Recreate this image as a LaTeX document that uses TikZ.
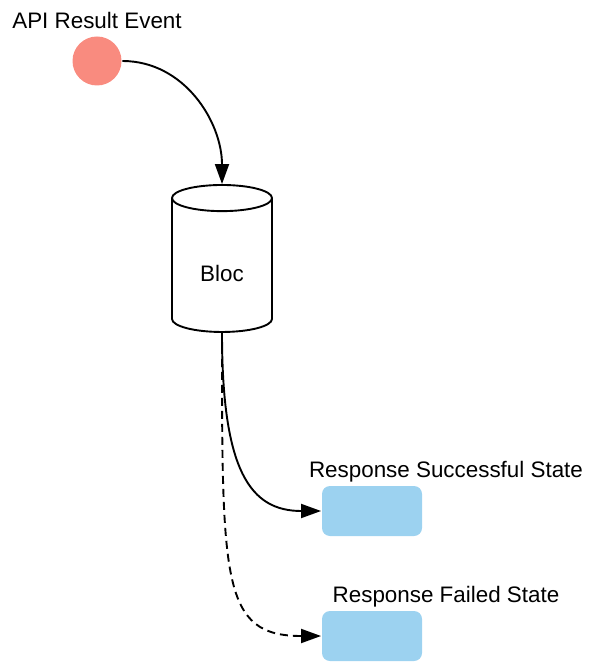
\documentclass[tikz,border=0pt]{standalone}
\usepackage{fontspec}
\setmainfont{Liberation Sans}
\usetikzlibrary{arrows.meta,shapes.geometric,positioning}
\definecolor{evred}{HTML}{F98B7F}
\definecolor{stblue}{HTML}{9CD2F0}

\begin{document}
\begin{tikzpicture}[x=0.5pt,y=-0.5pt,>={Triangle[length=10pt,width=7pt]},
  line width=0.95pt,font=\fontsize{11.2}{13}\selectfont,
  event/.style={circle,fill=evred,minimum size=24.5pt,inner sep=0pt},
  bloc/.style={cylinder,shape border rotate=90,draw,aspect=0.6,
    minimum width=50pt,minimum height=73.5pt,inner sep=0pt,text height=16pt},
  result/.style={rectangle,rounded corners=4pt,fill=stblue,
    minimum width=50pt,minimum height=25pt,inner sep=0pt},
  caption/.style={anchor=base,inner sep=0pt}]
\useasboundingbox (0,0) rectangle (597,667);

\node[event]  (ev)   at (97,61)    {};
\node[bloc]   (bl)   at (222,265.5) {Bloc};
\node[result] (ok)   at (372,511)  {};
\node[result] (fail) at (372,636)  {};

\node[caption] (evlab)   at (97,29)   {API Result Event};
\node[caption] (oklab)   at (446,477) {Response Successful State};
\node[caption] (faillab) at (446,602) {Response Failed State};

\draw[->] (ev.east) to[out=0,in=90] (bl.top);
\draw[->] (bl.bottom) to[out=-90,in=180,out looseness=1.75,in looseness=0.88] (ok.west);
\draw[->,dash pattern=on 4pt off 2.5pt] (bl.bottom)
  to[out=-90,in=180,out looseness=2,in looseness=0.8] (fail.west);

\end{tikzpicture}
\end{document}
